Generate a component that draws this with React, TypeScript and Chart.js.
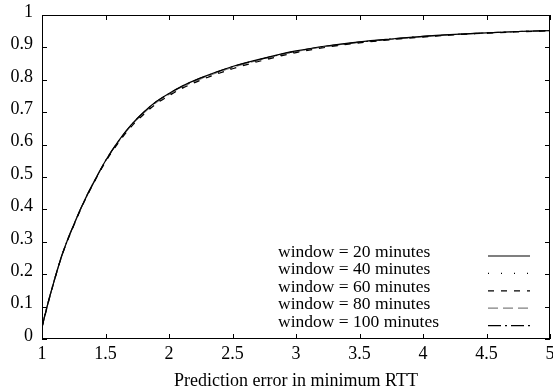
import React, { useEffect, useRef } from "react";
import { Chart, registerables } from "chart.js";

Chart.register(...registerables);

const xValues = [1.0, 1.05, 1.1, 1.15, 1.2, 1.25, 1.3, 1.35, 1.4, 1.5, 1.6, 1.7, 1.8, 1.9, 2.0, 2.1, 2.25, 2.5, 2.75, 3.0, 3.25, 3.5, 3.75, 4.0, 4.25, 4.5, 4.75, 5.0];
const win20 = [0.037, 0.115, 0.185, 0.25, 0.305, 0.352, 0.398, 0.44, 0.478, 0.55, 0.61, 0.66, 0.7, 0.733, 0.758, 0.78, 0.806, 0.841, 0.867, 0.889, 0.905, 0.917, 0.926, 0.934, 0.94, 0.945, 0.949, 0.952];
const win40 = [0.036, 0.114, 0.185, 0.25, 0.304, 0.351, 0.397, 0.439, 0.477, 0.548, 0.607, 0.656, 0.695, 0.728, 0.753, 0.775, 0.801, 0.836, 0.863, 0.886, 0.903, 0.915, 0.925, 0.933, 0.939, 0.944, 0.949, 0.952];
const win60 = [0.035, 0.113, 0.184, 0.249, 0.303, 0.35, 0.396, 0.438, 0.476, 0.547, 0.605, 0.654, 0.693, 0.726, 0.751, 0.773, 0.799, 0.834, 0.861, 0.884, 0.901, 0.914, 0.924, 0.932, 0.939, 0.944, 0.948, 0.951];
const win80 = [0.036, 0.115, 0.185, 0.25, 0.305, 0.352, 0.397, 0.44, 0.478, 0.549, 0.608, 0.658, 0.697, 0.73, 0.755, 0.777, 0.803, 0.838, 0.865, 0.887, 0.904, 0.916, 0.925, 0.933, 0.94, 0.945, 0.949, 0.952];
const win100 = [0.038, 0.116, 0.186, 0.251, 0.305, 0.352, 0.398, 0.44, 0.478, 0.55, 0.609, 0.659, 0.699, 0.732, 0.757, 0.779, 0.805, 0.84, 0.866, 0.888, 0.904, 0.916, 0.926, 0.934, 0.94, 0.945, 0.949, 0.952];

const seriesLabels = ["window = 20 minutes", "window = 40 minutes", "window = 60 minutes", "window = 80 minutes", "window = 100 minutes"];
const seriesValues = [win20, win40, win60, win80, win100];
const seriesColors = ["#000000", "#000000", "#000000", "#808080", "#000000"];
const seriesDashes: number[][] = [[], [1, 12], [6, 7], [10, 5], [13, 4, 2, 4]];

const xTitle = "Prediction error in minimum RTT";
const FONT = "'Liberation Serif', 'Times New Roman', serif";
const FS = 18;
const KEY_FS = 17.5;

const fmt = (v: any) => String(Number(Number(v).toFixed(1)));

const framePlugin = {
  id: "gnuplotFrame",
  afterDraw(chart: any) {
    const { ctx, chartArea } = chart;
    const { left, right, top, bottom } = chartArea;
    const xs = chart.scales.x;
    const ys = chart.scales.y;
    ctx.save();
    ctx.strokeStyle = "#000";
    ctx.lineWidth = 1;
    ctx.setLineDash([]);
    ctx.strokeRect(left + 0.5, top + 0.5, right - left - 1, bottom - top - 1);
    const tl = 5;
    ctx.beginPath();
    xs.ticks.forEach((t: any) => {
      const px = Math.round(xs.getPixelForValue(t.value)) + 0.5;
      ctx.moveTo(px, bottom);
      ctx.lineTo(px, bottom - tl);
      ctx.moveTo(px, top);
      ctx.lineTo(px, top + tl);
    });
    ys.ticks.forEach((t: any) => {
      const py = Math.round(ys.getPixelForValue(t.value)) + 0.5;
      ctx.moveTo(left, py);
      ctx.lineTo(left + tl, py);
      ctx.moveTo(right, py);
      ctx.lineTo(right - tl, py);
    });
    ctx.stroke();

    // key
    ctx.font = KEY_FS + "px " + FONT;
    ctx.fillStyle = "#000";
    ctx.textAlign = "left";
    ctx.textBaseline = "alphabetic";
    const datasets = chart.data.datasets;
    datasets.forEach((ds: any, i: number) => {
      const y = 257 + i * 17.4;
      ctx.fillText(ds.label, 278, y);
      ctx.beginPath();
      ctx.strokeStyle = ds.borderColor;
      ctx.lineWidth = 1.2;
      ctx.setLineDash(ds.borderDash || []);
      ctx.moveTo(488, y - 1);
      ctx.lineTo(530, y - 1);
      ctx.stroke();
    });
    ctx.restore();
  },
};

export default function App() {
  const ref = useRef<HTMLCanvasElement | null>(null);
  useEffect(() => {
    if (!ref.current) return;
    const chart = new Chart(ref.current, {
      type: "line",
      data: {
        datasets: seriesLabels.map((label, i) => ({
          label,
          data: xValues.map((x, j) => ({ x, y: seriesValues[i][j] })),
          borderColor: seriesColors[i],
          borderDash: seriesDashes[i],
          borderWidth: 1.2,
          pointRadius: 0,
          fill: false,
          cubicInterpolationMode: "monotone",
        })),
      },
      options: {
        animation: false,
        responsive: false,
        maintainAspectRatio: false,
        layout: { padding: { top: 15, right: 3, left: 0, bottom: 0 } },
        plugins: { legend: { display: false }, tooltip: { enabled: false } },
        scales: {
          x: {
            type: "linear",
            min: 1,
            max: 5,
            border: { display: false },
            grid: { display: false, drawTicks: false },
            ticks: { stepSize: 0.5, color: "#000", padding: 4, font: { family: FONT, size: FS }, maxRotation: 0, callback: fmt },
            title: { display: true, text: xTitle, color: "#000", font: { family: FONT, size: FS }, padding: { top: 0, bottom: 0 } },
            afterFit: (s: any) => {
              s.height = 53;
              s.paddingLeft = 0;
              s.paddingRight = 0;
            },
          },
          y: {
            type: "linear",
            min: 0,
            max: 1,
            border: { display: false },
            grid: { display: false, drawTicks: false },
            ticks: { stepSize: 0.1, color: "#000", padding: 9, labelOffset: -3, font: { family: FONT, size: FS }, callback: fmt },
            afterFit: (s: any) => {
              s.width = 42;
              s.paddingTop = 0;
              s.paddingBottom = 0;
            },
          },
        },
      },
      plugins: [framePlugin],
    });
    return () => chart.destroy();
  }, []);
  return (
    <div style={{ position: "fixed", left: 0, top: 0, width: 553, height: 392, background: "#fff" }}>
      <canvas ref={ref} width={553} height={392} style={{ display: "block" }} />
    </div>
  );
}
